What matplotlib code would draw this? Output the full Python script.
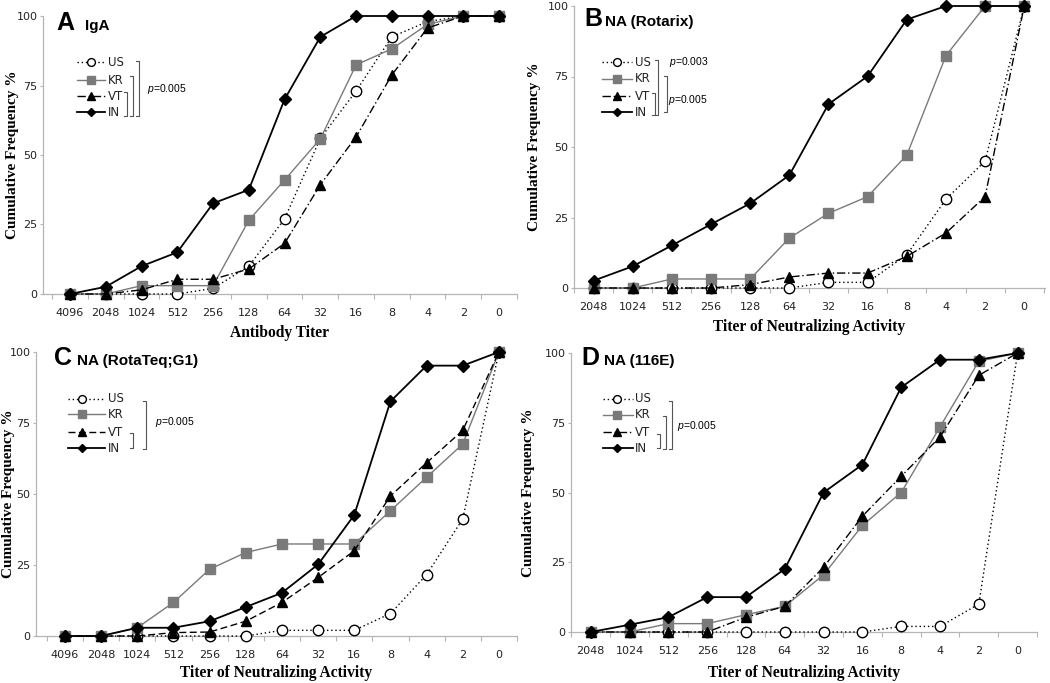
import matplotlib
matplotlib.use('Agg')
import matplotlib.pyplot as plt
from matplotlib.lines import Line2D
import numpy as np

plt.rcParams['font.family'] = ['Liberation Sans', 'DejaVu Sans']
plt.rcParams['mathtext.fontset'] = 'custom'
plt.rcParams['mathtext.it'] = 'Liberation Sans:italic'
plt.rcParams['mathtext.rm'] = 'Liberation Sans'

# ---- data ----
titers_13 = ['4096', '2048', '1024', '512', '256', '128', '64', '32', '16', '8', '4', '2', '0']
titers_12 = ['2048', '1024', '512', '256', '128', '64', '32', '16', '8', '4', '2', '0']

iga_us = [0, 0, 0, 0, 2, 10, 27, 56, 73, 92.5, 98, 100, 100]
iga_kr = [0, 0, 3, 3, 3, 26.5, 41, 55.8, 82.4, 88.2, 97, 100, 100]
iga_vt = [0, 0, 1.5, 5.3, 5.3, 9, 18.2, 39.3, 56.5, 78.8, 95.7, 100, 100]
iga_in = [0, 2.6, 10, 15, 32.6, 37.5, 70, 92.5, 100, 100, 100, 100, 100]

rotarix_us = [0, 0, 0, 0, 0, 0, 2, 2, 11.8, 31.5, 45, 100]
rotarix_kr = [0, 0, 3.2, 3.2, 3.2, 17.7, 26.5, 32.4, 47.1, 82.4, 100, 100]
rotarix_vt = [0, 0, 0, 0, 1.2, 3.9, 5.3, 5.3, 11.2, 19.5, 32.4, 100]
rotarix_in = [2.6, 7.7, 15.1, 22.6, 30, 40, 65.2, 75.1, 95.2, 100, 100, 100]

rotateq_us = [0, 0, 0, 0, 0, 0, 2, 2, 2, 7.9, 21.6, 41.2, 100]
rotateq_kr = [0, 0, 2.9, 11.8, 23.5, 29.4, 32.4, 32.4, 32.4, 44.1, 55.9, 67.6, 100]
rotateq_vt = [0, 0, 0, 1.2, 1.4, 5.2, 11.8, 20.6, 30, 49.3, 61, 72.4, 100]
rotateq_in = [0, 0, 2.9, 2.9, 5.2, 10.2, 15.2, 25.2, 42.6, 82.6, 95.2, 95.2, 100]

e116_us = [0, 0, 0, 0, 0, 0, 0, 0, 2, 2, 10, 100]
e116_kr = [0, 0, 3, 3, 6.2, 9.2, 20.5, 38.2, 50, 73.5, 97, 100]
e116_vt = [0, 0, 0, 0, 5.3, 9.2, 23.2, 41.5, 55.8, 69.9, 92, 100]
e116_in = [0, 2.6, 5.3, 12.5, 12.5, 22.6, 50, 60, 87.7, 97.6, 97.6, 100]

W, H = 1050, 683
fig = plt.figure(figsize=(10.5, 6.83), dpi=100)


def fx(x):
    return x / W


def fy(y):
    return 1 - y / H


def axes_px(l, r, t, b):
    return fig.add_axes([fx(l), fy(b), (r - l) / W, (b - t) / H])


GRAY = '#7a7a7a'
AXC = '#b5b5b5'
TXT = '#222222'
TICKFONT = 'DejaVu Sans'


def styles(vt_ls):
    return [dict(ls=(0, (1, 2)), color='k', lw=1.0, marker='o', mfc='white', mec='k', ms=7.5),
            dict(ls='-', color=GRAY, lw=1.0, marker='s', mfc=GRAY, mec=GRAY, ms=7),
            dict(ls=vt_ls, color='k', lw=1.0, marker='^', mfc='k', mec='k', ms=7.5),
            dict(ls='-', color='k', lw=1.3, marker='D', mfc='k', mec='k', ms=5.8)]


def panel(ax, labels, series, vt_ls, xlim, xlabel, ylab_x, xlab_y):
    x = np.arange(len(labels))
    for ser, s in zip(series, styles(vt_ls)):
        ax.plot(x, ser, clip_on=False, zorder=3, **s)
    ax.set_xlim(*xlim)
    ax.set_ylim(0, 100)
    ax.set_xticks(x)
    ax.set_xticklabels(labels, family=TICKFONT)
    ax.set_xticks(np.arange(len(labels) + 1) - 0.5, minor=True)
    ax.set_yticks([0, 25, 50, 75, 100])
    ax.set_yticklabels(['0', '25', '50', '75', '100'], family=TICKFONT)
    ax.tick_params(axis='x', which='major', length=0, pad=10, labelsize=8, colors=TXT)
    ax.tick_params(axis='x', which='minor', length=3.5, color=AXC, width=0.8)
    ax.tick_params(axis='y', length=2.5, pad=1.5, labelsize=8, colors=TXT, color=AXC, width=0.8)
    for side in ['top', 'right']:
        ax.spines[side].set_visible(False)
    for side in ['left', 'bottom']:
        ax.spines[side].set_color(AXC)
        ax.spines[side].set_linewidth(0.9)
    ax.set_xlabel(xlabel, family='Liberation Serif', fontweight='bold', fontsize=11.2, va='center')
    ax.set_ylabel('Cumulative Frequency %', family='Liberation Serif', fontweight='bold', fontsize=11,
                  va='center')
    ax.xaxis.set_label_coords(0.5, xlab_y)
    ax.yaxis.set_label_coords(ylab_x, 0.5)


def title_px(letter, sub, xl, xs, yb):
    fig.text(fx(xl), fy(yb), letter, fontweight='bold', fontsize=18, va='baseline')
    fig.text(fx(xs), fy(yb), sub, fontweight='bold', fontsize=11, va='baseline')


def legend_px(x0, x1, xm, xt, rows, vt_ls):
    names = ['US', 'KR', 'VT', 'IN']
    for y, s, name in zip(rows, styles(vt_ls), names):
        fig.add_artist(Line2D([fx(x0), fx(x1)], [fy(y), fy(y)], transform=fig.transFigure,
                              ls=s['ls'], color=s['color'], lw=s['lw']))
        fig.add_artist(Line2D([fx(xm)], [fy(y)], transform=fig.transFigure, ls='none',
                              marker=s['marker'], mfc=s['mfc'], mec=s['mec'], ms=s['ms'] * 0.75))
        fig.text(fx(xt), fy(y), name, fontsize=8.5, va='center', ha='left', color=TXT, family=TICKFONT)


def bracket_px(x, yt, yb):
    fig.add_artist(Line2D([fx(x - 3), fx(x), fx(x), fx(x - 3)], [fy(yt), fy(yt), fy(yb), fy(yb)],
                          transform=fig.transFigure, color='#555555', lw=0.8))


def ptext_px(x, y, s):
    fig.text(fx(x), fy(y), s, fontsize=7.5, va='center', ha='left')


DASHDOT = (0, (6, 2, 1, 2))

# ---- A ----
axA = axes_px(43, 517, 16, 294)
panel(axA, titers_13, [iga_us, iga_kr, iga_vt, iga_in], DASHDOT, (-0.755, 12.5),
      'Antibody Titer', -0.065, -0.14)
title_px('A', 'IgA', 56, 85, 30)
legend_px(77, 105, 91, 108, [62, 80, 96, 112], DASHDOT)
bracket_px(127, 92, 116)
bracket_px(133, 76, 116)
bracket_px(139, 61, 116)
ptext_px(147, 89, '$p$=0.005')

# ---- B ----
axB = axes_px(574, 1045, 6, 288)
panel(axB, titers_12, [rotarix_us, rotarix_kr, rotarix_vt, rotarix_in], DASHDOT, (-0.48, 11.53),
      'Titer of Neutralizing Activity', -0.083, -0.14)
title_px('B', 'NA (Rotarix)', 584, 605, 26)
legend_px(602, 632, 617, 635, [62, 79, 96, 112], DASHDOT)
bracket_px(655, 93, 115)
bracket_px(658, 60, 115)
bracket_px(667, 76, 112)
ptext_px(669, 62, '$p$=0.003')
ptext_px(668, 100, '$p$=0.005')

# ---- C ----
axC = axes_px(36, 517, 352, 636)
panel(axC, titers_13, [rotateq_us, rotateq_kr, rotateq_vt, rotateq_in], (0, (5, 2.5)), (-0.8, 12.5),
      'Titer of Neutralizing Activity', -0.058, -0.13)
title_px('C', 'NA (RotaTeq;G1)', 54, 77, 365)
legend_px(68, 105, 82, 108, [399, 414, 432, 448], (0, (5, 2.5)))
bracket_px(133, 433, 448)
bracket_px(146, 401, 449)
ptext_px(155, 422, '$p$=0.005')

# ---- D ----
axD = axes_px(571, 1037, 353, 632)
panel(axD, titers_12, [e116_us, e116_kr, e116_vt, e116_in], DASHDOT, (-0.51, 11.46),
      'Titer of Neutralizing Activity', -0.092, -0.147)
title_px('D', 'NA (116E)', 581, 604, 365)
legend_px(603, 633, 617, 635, [399, 415, 432, 448], DASHDOT)
bracket_px(660, 434, 448)
bracket_px(666, 416, 449)
bracket_px(672, 401, 449)
ptext_px(677, 426, '$p$=0.005')

fig.savefig('out.png', dpi=100)
